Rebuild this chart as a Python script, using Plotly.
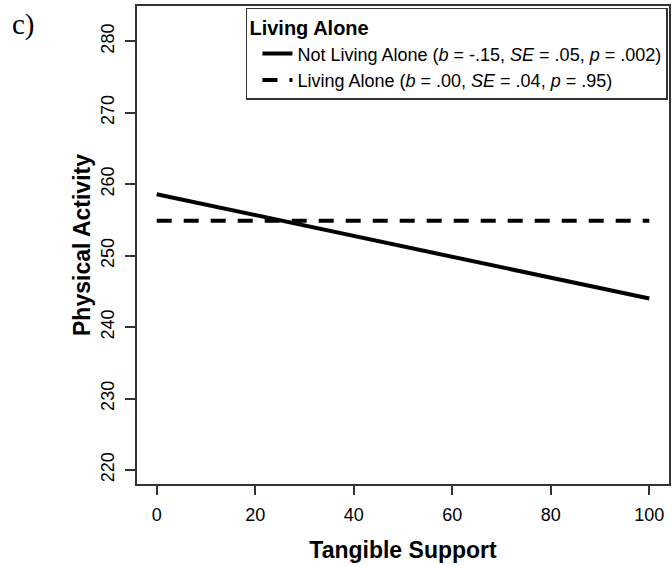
import plotly.graph_objects as go

support = [0, 100]
not_alone = [258.6, 244.0]
alone = [254.9, 254.9]
x_ticks = [0, 20, 40, 60, 80, 100]
y_ticks = [220, 230, 240, 250, 260, 270, 280]
names = [
    "Not Living Alone (<i>b</i> = -.15, <i>SE</i> = .05, <i>p</i> = .002)",
    "Living Alone (<i>b</i> = .00, <i>SE</i> = .04, <i>p</i> = .95)",
]

FONT = "Liberation Sans, Arial, sans-serif"
fig = go.Figure()
fig.add_trace(go.Scatter(x=support, y=not_alone, mode="lines", name=names[0],
                         line=dict(color="black", width=4)))
fig.add_trace(go.Scatter(x=support, y=alone, mode="lines", name=names[1],
                         line=dict(color="black", width=4, dash="15px,12px")))

axcol = "#333333"
fig.update_layout(
    width=672, height=566,
    margin=dict(l=137, r=1, t=6, b=82),
    paper_bgcolor="white", plot_bgcolor="white",
    font=dict(family=FONT, color="black", size=16),
    showlegend=True,
    legend=dict(
        title=dict(text="<b>Living Alone</b>", font=dict(size=20, family=FONT)),
        x=0.998, y=0.996, xanchor="right", yanchor="top",
        bordercolor=axcol, borderwidth=1.5, bgcolor="white",
        font=dict(size=18, family=FONT), tracegroupgap=0, itemwidth=30,
        indentation=10,
    ),
    xaxis=dict(
        range=[-4, 104], tickvals=x_ticks, ticks="outside", ticklen=9, tickwidth=1.5,
        tickcolor=axcol, showline=True, linecolor=axcol, linewidth=1.5, mirror=True,
        showgrid=False, zeroline=False, tickfont=dict(size=18), ticklabelstandoff=5,
        title=dict(text="<b>Tangible Support</b>", font=dict(size=23), standoff=18),
    ),
    yaxis=dict(
        range=[218.04, 284.94], tickvals=y_ticks, ticks="outside", ticklen=10, tickwidth=1.5,
        tickcolor=axcol, showline=True, linecolor=axcol, linewidth=1.5, mirror=True,
        showgrid=False, zeroline=False, tickfont=dict(size=18), tickangle=-90,
        ticklabelstandoff=4,
        title=dict(text="<b>Physical Activity</b>", font=dict(size=23), standoff=1),
    ),
    annotations=[dict(text="c)", xref="paper", yref="paper", x=-0.238, y=1.0,
                      xanchor="left", yanchor="top", showarrow=False,
                      font=dict(family="Liberation Serif, Times New Roman, serif", size=29))],
)
fig.write_html("out.html", config={"displayModeBar": False},
               post_script="document.body.style.margin='0';")
